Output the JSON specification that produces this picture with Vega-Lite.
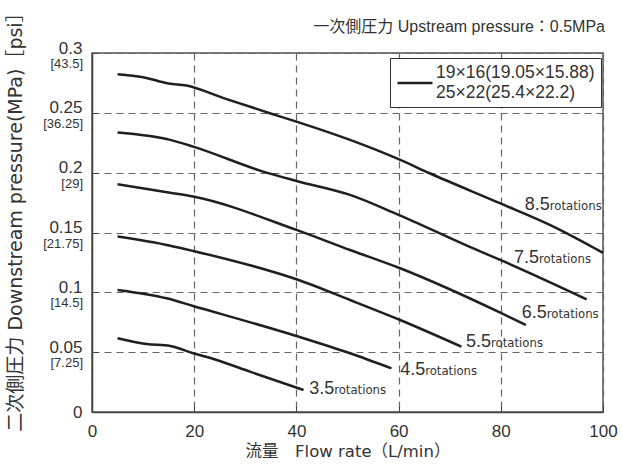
{
  "$schema": "https://vega.github.io/schema/vega-lite/v6.json",
  "width": 511,
  "height": 359,
  "autosize": "none",
  "padding": {"left": 92, "top": 53, "right": 19, "bottom": 56},
  "background": "white",
  "title": {
    "text": "一次側圧力 Upstream pressure：0.5MPa",
    "anchor": "end",
    "frame": "group",
    "fontSize": 16,
    "fontWeight": "normal",
    "color": "#333",
    "font": "Liberation Sans, Noto Sans CJK JP, sans-serif",
    "offset": -32,
    "dx": 2
  },
  "config": {
    "view": {"stroke": "#555", "strokeWidth": 1.5},
    "font": "Liberation Sans, Noto Sans CJK JP, sans-serif"
  },
  "datasets": {
    "curves": [
      {"rot": "8.5", "flow": 5, "p": 0.2823},
      {"rot": "8.5", "flow": 10, "p": 0.2798},
      {"rot": "8.5", "flow": 15, "p": 0.2745},
      {"rot": "8.5", "flow": 18.5, "p": 0.2728},
      {"rot": "8.5", "flow": 25.6, "p": 0.2625},
      {"rot": "8.5", "flow": 34.8, "p": 0.2497},
      {"rot": "8.5", "flow": 40, "p": 0.2427},
      {"rot": "8.5", "flow": 50.5, "p": 0.2274},
      {"rot": "8.5", "flow": 60, "p": 0.2113},
      {"rot": "8.5", "flow": 66.1, "p": 0.1995},
      {"rot": "8.5", "flow": 79.8, "p": 0.1745},
      {"rot": "8.5", "flow": 90, "p": 0.1555},
      {"rot": "8.5", "flow": 100, "p": 0.133},
      {"rot": "7.5", "flow": 5, "p": 0.2335},
      {"rot": "7.5", "flow": 15.3, "p": 0.2274},
      {"rot": "7.5", "flow": 19.8, "p": 0.2218},
      {"rot": "7.5", "flow": 33.5, "p": 0.2009},
      {"rot": "7.5", "flow": 40, "p": 0.1931},
      {"rot": "7.5", "flow": 50.5, "p": 0.1814},
      {"rot": "7.5", "flow": 60, "p": 0.1647},
      {"rot": "7.5", "flow": 75.3, "p": 0.1354},
      {"rot": "7.5", "flow": 80, "p": 0.1269},
      {"rot": "7.5", "flow": 96.8, "p": 0.0942},
      {"rot": "6.5", "flow": 5, "p": 0.1904},
      {"rot": "6.5", "flow": 15.3, "p": 0.1833},
      {"rot": "6.5", "flow": 19.8, "p": 0.18},
      {"rot": "6.5", "flow": 40, "p": 0.1522},
      {"rot": "6.5", "flow": 50.5, "p": 0.1354},
      {"rot": "6.5", "flow": 60.3, "p": 0.1201},
      {"rot": "6.5", "flow": 80, "p": 0.0828},
      {"rot": "6.5", "flow": 84.9, "p": 0.0727},
      {"rot": "5.5", "flow": 5, "p": 0.1466},
      {"rot": "5.5", "flow": 15.3, "p": 0.139},
      {"rot": "5.5", "flow": 19.8, "p": 0.1346},
      {"rot": "5.5", "flow": 40, "p": 0.1109},
      {"rot": "5.5", "flow": 50.5, "p": 0.0936},
      {"rot": "5.5", "flow": 60.3, "p": 0.0769},
      {"rot": "5.5", "flow": 72.3, "p": 0.0546},
      {"rot": "4.5", "flow": 5, "p": 0.102},
      {"rot": "4.5", "flow": 14.6, "p": 0.095},
      {"rot": "4.5", "flow": 19.8, "p": 0.0886},
      {"rot": "4.5", "flow": 40, "p": 0.0635},
      {"rot": "4.5", "flow": 50.5, "p": 0.0491},
      {"rot": "4.5", "flow": 58.6, "p": 0.0365},
      {"rot": "3.5", "flow": 5, "p": 0.0616},
      {"rot": "3.5", "flow": 10.7, "p": 0.0568},
      {"rot": "3.5", "flow": 15.3, "p": 0.0552},
      {"rot": "3.5", "flow": 19.8, "p": 0.0491},
      {"rot": "3.5", "flow": 24.4, "p": 0.0435},
      {"rot": "3.5", "flow": 30.9, "p": 0.0337},
      {"rot": "3.5", "flow": 41.4, "p": 0.0184}
    ],
    "labels": [
      {"rot": "8.5", "x": 84.7, "y": 0.1747},
      {"rot": "7.5", "x": 82.6, "y": 0.1302},
      {"rot": "6.5", "x": 84.1, "y": 0.0842},
      {"rot": "5.5", "x": 73.2, "y": 0.0602},
      {"rot": "4.5", "x": 60.3, "y": 0.037},
      {"rot": "3.5", "x": 42.5, "y": 0.0212}
    ],
    "psi": [
      {"v": 0.3, "psi": "[43.5]"},
      {"v": 0.25, "psi": "[36.25]"},
      {"v": 0.2, "psi": "[29]"},
      {"v": 0.15, "psi": "[21.75]"},
      {"v": 0.1, "psi": "[14.5]"},
      {"v": 0.05, "psi": "[7.25]"}
    ]
  },
  "layer": [
    {
      "data": {"name": "curves"},
      "mark": {"type": "line", "interpolate": "monotone", "strokeWidth": 2.5},
      "encoding": {
        "x": {
          "field": "flow",
          "type": "quantitative",
          "scale": {"domain": [0, 100], "nice": false},
          "axis": {
            "values": [0, 20, 40, 60, 80, 100],
            "labelFontSize": 17,
            "labelColor": "#333",
            "labelPadding": 17,
            "labelFlush": false,
            "tickSize": -6,
            "tickColor": "#444",
            "domainColor": "#444",
            "domainWidth": 1.5,
            "grid": true,
            "gridDash": [7, 5],
            "gridColor": "#666",
            "gridWidth": 1.2,
            "title": "流量　Flow rate（L/min）",
            "titleFont": "DejaVu Sans, Noto Sans CJK JP, sans-serif",
            "titleFontSize": 16.5,
            "titleFontWeight": "normal",
            "titleColor": "#333",
            "titlePadding": 4
          }
        },
        "y": {
          "field": "p",
          "type": "quantitative",
          "scale": {"domain": [0, 0.3], "nice": false},
          "axis": {
            "values": [0, 0.05, 0.1, 0.15, 0.2, 0.25, 0.3],
            "labelExpr": "datum.value == 0 ? '0' : format(datum.value, '.2~f')",
            "labelBaseline": {"condition": {"test": "datum.value == 0", "value": "middle"}, "value": "alphabetic"},
            "labelFontSize": 17,
            "labelColor": "#333",
            "labelPadding": 16,
            "labelFlush": false,
            "tickSize": -6,
            "tickColor": "#444",
            "domainColor": "#444",
            "domainWidth": 1.5,
            "grid": true,
            "gridDash": [7, 5],
            "gridColor": "#666",
            "gridWidth": 1.2,
            "title": "二次側圧力 Downstream pressure(MPa)［psi］",
            "titleFont": "DejaVu Sans, Noto Sans CJK JP, sans-serif",
            "titleFontSize": 19,
            "titleFontWeight": "normal",
            "titleColor": "#333",
            "titleAngle": -90,
            "titleAlign": "center",
            "titleBaseline": "middle",
            "titleX": -77,
            "titleY": 164
          }
        },
        "detail": {"field": "rot"},
        "color": {
          "datum": "spec",
          "scale": {"range": ["#1f1f1f"]},
          "legend": {
            "orient": "none",
            "legendX": 298,
            "legendY": 5,
            "title": null,
            "strokeColor": "#333",
            "fillColor": "white",
            "padding": 6,
            "symbolType": "stroke",
            "symbolSize": 1225,
            "symbolStrokeWidth": 2.5,
            "labelExpr": "['19×16(19.05×15.88)', '25×22(25.4×22.2)']",
            "labelFontSize": 17.5,
            "labelLineHeight": 25,
            "labelBaseline": "line-bottom",
            "labelColor": "#333",
            "labelLimit": 0,
            "labelOffset": 2
          }
        }
      }
    },
    {
      "data": {"name": "labels"},
      "mark": {"type": "text", "align": "left", "baseline": "alphabetic", "fontSize": 18, "color": "#333", "dy": 7},
      "encoding": {
        "x": {"field": "x", "type": "quantitative"},
        "y": {"field": "y", "type": "quantitative"},
        "text": {"field": "rot"}
      }
    },
    {
      "data": {"name": "labels"},
      "mark": {"type": "text", "align": "left", "baseline": "alphabetic", "fontSize": 13, "color": "#333", "dx": 25, "dy": 7, "font": "Liberation Sans Narrow, DejaVu Sans Condensed, sans-serif", "text": "rotations"},
      "encoding": {
        "x": {"field": "x", "type": "quantitative"},
        "y": {"field": "y", "type": "quantitative"}
      }
    },
    {
      "data": {"name": "psi"},
      "mark": {"type": "text", "align": "right", "baseline": "top", "fontSize": 13, "color": "#333", "dx": -9, "dy": 5},
      "encoding": {
        "x": {"datum": 0},
        "y": {"field": "v", "type": "quantitative"},
        "text": {"field": "psi"}
      }
    }
  ]
}
